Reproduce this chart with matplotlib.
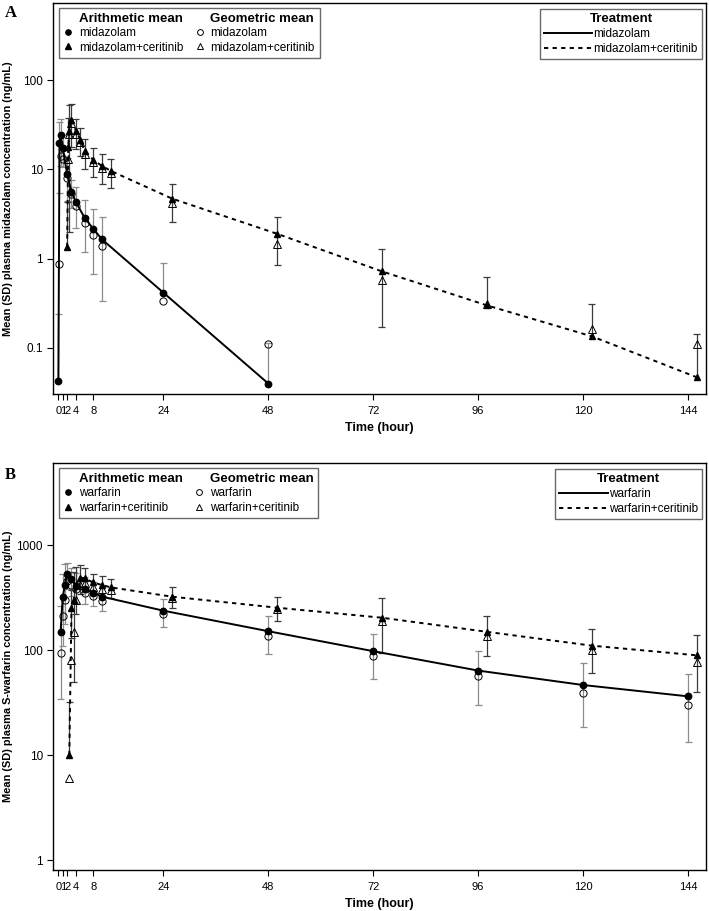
import numpy as np
import matplotlib
matplotlib.use("Agg")
import matplotlib.pyplot as plt
from matplotlib.lines import Line2D
from matplotlib.ticker import NullLocator

# ---- Panel A: midazolam ----
mid_t = [0, 0.25, 0.5, 1, 2, 3, 4, 6, 8, 10, 24, 48]
mid_mean = [0.043, 19.5, 24, 17.5, 8.9, 5.6, 4.3, 2.87, 2.15, 1.64, 0.417, 0.04]
mid_sd = [0.2, 14.1, 13, 7, 4.5, 1.9, 2.1, 1.68, 1.47, 1.3, 0.48, 0.075]
mid_geo_t = [0.25, 0.5, 1, 2, 3, 4, 6, 8, 10, 24, 48]
mid_geo = [0.87, 14, 13, 8, 5.3, 3.9, 2.5, 1.84, 1.37, 0.335, 0.11]

midc_t = [2, 2.25, 2.5, 3, 4, 5, 6, 8, 10, 12, 26, 50, 74, 98, 122, 146]
midc_mean = [1.35, 18, 27, 36, 27, 21.5, 16, 12.7, 10.9, 9.6, 4.7, 1.9, 0.72, 0.3, 0.135, 0.047]
midc_sd = [3, 20, 25, 18, 10, 7.5, 5.8, 4.5, 4, 3.4, 2.1, 1.05, 0.55, 0.33, 0.175, 0.095]
midc_geo_t = [2.25, 2.5, 3, 4, 5, 6, 8, 10, 12, 26, 50, 74, 98, 122, 146]
midc_geo = [13, 25, 33, 25, 20, 15, 12, 10.3, 9.2, 4.2, 1.45, 0.57, 0.31, 0.165, 0.11]

# ---- Panel B: S-warfarin ----
war_t = [0.5, 1, 1.5, 2, 3, 4, 6, 8, 10, 24, 48, 72, 96, 120, 144]
war_mean = [148, 320, 415, 530, 470, 410, 385, 352, 322, 237, 151, 97.5, 63.7, 46.4, 36.2]
war_sd = [114, 210, 240, 150, 140, 130, 110, 90, 85, 70, 59, 45, 34, 28, 23]
war_geo_t = war_t
war_geo = [93, 211, 300, 450, 420, 378, 352, 327, 295, 220, 136, 86.8, 56, 39, 29.7]

warc_t = [2.5, 3, 3.5, 4, 5, 6, 8, 10, 12, 26, 50, 74, 98, 122, 146]
warc_mean = [10, 250, 300, 420, 490, 480, 440, 415, 395, 322, 253, 203, 149, 110, 89]
warc_sd = [22, 120, 250, 200, 150, 120, 90, 90, 80, 73, 65, 110, 61, 50, 49]
warc_geo_t = warc_t
warc_geo = [6, 80, 150, 300, 420, 430, 400, 380, 370, 315, 245, 189, 137, 99, 77]

x_ticks = [0, 1, 2, 4, 8, 24, 48, 72, 96, 120, 144]

NARROW = ["Liberation Sans Narrow", "Liberation Sans", "DejaVu Sans"]
SANS = ["Liberation Sans", "DejaVu Sans"]
plt.rcParams["font.family"] = SANS

GRAY = "#8c8c8c"
DARK = "#3a3a3a"


def sd_bars(ax, t, mean, sd, color):
    # mean +/- SD, lower half dropped when it would go below zero
    t = np.asarray(t, float)
    m = np.asarray(mean, float)
    s = np.asarray(sd, float)
    hi = m + s
    lo = m - s
    ok = lo > 0
    ax.vlines(t, np.where(ok, lo, m), hi, colors=color, lw=0.9, zorder=2)
    ax.hlines(hi, t - 0.8, t + 0.8, colors=color, lw=0.9, zorder=2)
    ax.hlines(lo[ok], t[ok] - 0.8, t[ok] + 0.8, colors=color, lw=0.9, zorder=2)


def panel(ax, drug, d, yl, yticks, ylabels, ylabel):
    (t1, m1, s1, gt1, g1, t2, m2, s2, gt2, g2) = d
    sd_bars(ax, t1, m1, s1, GRAY)
    sd_bars(ax, t2, m2, s2, DARK)
    ax.plot(t1, m1, color="black", lw=1.4, zorder=3)
    ax.plot(t2, m2, color="black", lw=1.4, ls=(0, (2.2, 2.2)), zorder=3)
    ax.plot(t1, m1, ls="none", marker="o", ms=4.6, color="black", zorder=4)
    ax.plot(t2, m2, ls="none", marker="^", ms=4.6, color="black", zorder=4)
    ax.plot(gt1, g1, ls="none", marker="o", ms=5.2, mfc="none", mec="black", mew=0.7, zorder=4)
    ax.plot(gt2, g2, ls="none", marker="^", ms=5.4, mfc="none", mec="black", mew=0.7, zorder=4)

    ax.set_yscale("log")
    ax.set_ylim(*yl)
    ax.set_xlim(-1.23, 148.1)
    ax.set_yticks(yticks)
    ax.set_yticklabels(ylabels)
    ax.yaxis.set_minor_locator(NullLocator())
    ax.set_xticks(x_ticks)
    ax.set_xticklabels([str(v) for v in x_ticks])
    ax.tick_params(length=4.3, width=0.8, pad=3, labelsize=8.5)
    ax.tick_params(axis="x", pad=4.5, labelsize=8)
    for lab in ax.get_xticklabels() + ax.get_yticklabels():
        lab.set_family(NARROW)
    for sp in ax.spines.values():
        sp.set_linewidth(1.0)

    ax.set_ylabel(ylabel, fontsize=7.9, fontweight="bold")
    ax.yaxis.set_label_coords(-0.061, 0.5)
    ax.set_xlabel("Time (hour)", fontsize=9, fontweight="bold", family=NARROW)

    blank = Line2D([], [], ls="none")
    h = [blank,
         Line2D([], [], ls="none", marker="o", ms=3.8, color="black"),
         Line2D([], [], ls="none", marker="^", ms=3.8, color="black"),
         blank,
         Line2D([], [], ls="none", marker="o", ms=4.2, mfc="none", mec="black", mew=0.7),
         Line2D([], [], ls="none", marker="^", ms=4.2, mfc="none", mec="black", mew=0.7)]
    labs = ["Arithmetic mean", drug, drug + "+ceritinib",
            "Geometric mean", drug, drug + "+ceritinib"]
    leg1 = ax.legend(h, labs, ncol=2, loc="upper left", bbox_to_anchor=(0.009, 0.987),
                     fontsize=8.5, frameon=True, fancybox=False, edgecolor="#444444",
                     handlelength=0.8, handletextpad=0.5, columnspacing=1.0,
                     labelspacing=0.2, borderpad=0.4, borderaxespad=0)
    leg1.get_frame().set_linewidth(1.0)
    for i in (0, 3):
        leg1.get_texts()[i].set_fontweight("bold")
        leg1.get_texts()[i].set_fontsize(9.5)
    ax.add_artist(leg1)

    h2 = [Line2D([], [], color="black", lw=1.4),
          Line2D([], [], color="black", lw=1.4, ls=(0, (2.2, 2.2)))]
    leg2 = ax.legend(h2, [drug, drug + "+ceritinib"], loc="upper right",
                     bbox_to_anchor=(0.994, 0.985), title="Treatment",
                     title_fontproperties={"weight": "bold", "size": 9.5},
                     fontsize=8.5, frameon=True, fancybox=False, edgecolor="#444444",
                     handlelength=4.1, handletextpad=0.1, labelspacing=0.25,
                     borderpad=0.35, borderaxespad=0)
    leg2.get_frame().set_linewidth(1.0)


fig = plt.figure(figsize=(7.09, 9.11), dpi=100)
W, H = 709, 911
axA = fig.add_axes([53 / W, 1 - 394 / H, 653 / W, 391 / H])
axB = fig.add_axes([53 / W, 1 - 870 / H, 653 / W, 407 / H])

panel(axA, "midazolam",
      (mid_t, mid_mean, mid_sd, mid_geo_t, mid_geo,
       midc_t, midc_mean, midc_sd, midc_geo_t, midc_geo),
      (10 ** -1.515, 10 ** 2.862), [0.1, 1, 10, 100], ["0.1", "1", "10", "100"],
      "Mean (SD) plasma midazolam concentration (ng/mL)")
axA.xaxis.set_label_coords(0.5, -0.071)

panel(axB, "warfarin",
      (war_t, war_mean, war_sd, war_geo_t, war_geo,
       warc_t, warc_mean, warc_sd, warc_geo_t, warc_geo),
      (10 ** -0.095, 10 ** 3.781), [1, 10, 100, 1000], ["1", "10", "100", "1000"],
      "Mean (SD) plasma S-warfarin concentration (ng/mL)")
axB.xaxis.set_label_coords(0.5, -0.068)

fig.text(11 / W, 1 - 13 / H, "A", family=["Liberation Serif", "DejaVu Serif"],
         fontweight="bold", fontsize=12, ha="center", va="center")
fig.text(10 / W, 1 - 475 / H, "B", family=["Liberation Serif", "DejaVu Serif"],
         fontweight="bold", fontsize=12, ha="center", va="center")

fig.savefig("out.png", dpi=100)
